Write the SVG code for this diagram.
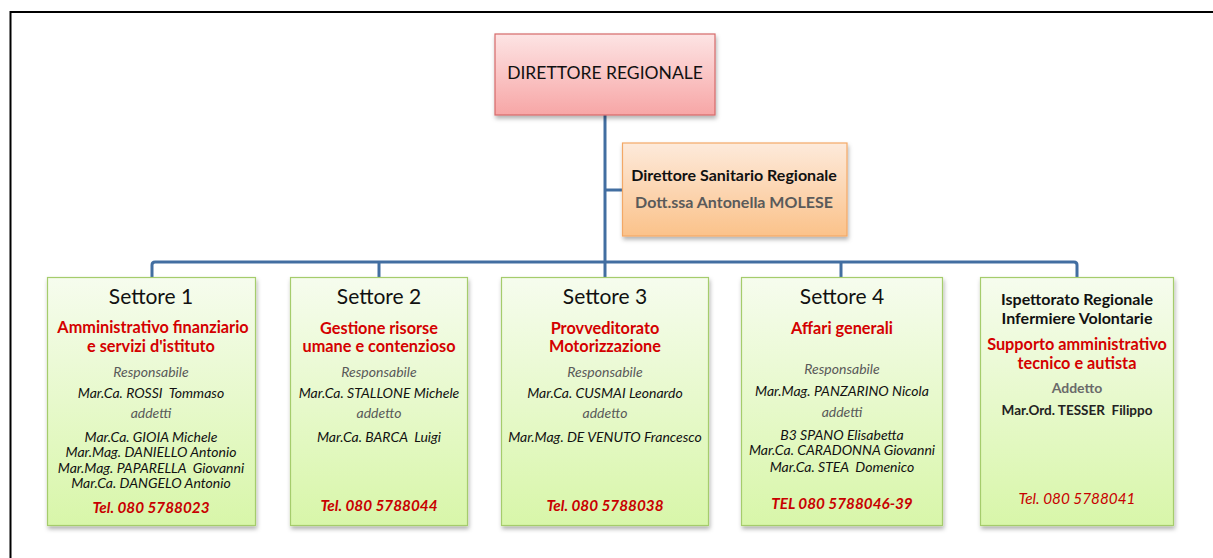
<svg xmlns="http://www.w3.org/2000/svg" width="1213" height="558" viewBox="0 0 1213 558">
<defs>
<linearGradient id="gPink" x1="0" y1="0" x2="0" y2="1"><stop offset="0" stop-color="#fde4e4"/><stop offset="1" stop-color="#f7a6a6"/></linearGradient>
<linearGradient id="gOrange" x1="0" y1="0" x2="0" y2="1"><stop offset="0" stop-color="#fdeadb"/><stop offset="1" stop-color="#fbc28a"/></linearGradient>
<linearGradient id="gGreen" x1="0" y1="0" x2="0" y2="1"><stop offset="0" stop-color="#f6fcee"/><stop offset="1" stop-color="#d8f6a9"/></linearGradient>
<filter id="sh" x="-10%" y="-10%" width="120%" height="130%"><feDropShadow dx="1" dy="3" stdDeviation="2" flood-color="#000" flood-opacity="0.3"/></filter>
<style>
text{font-family:Lato,"Liberation Sans",sans-serif;text-anchor:middle;white-space:pre}
.pink{fill:url(#gPink);stroke:#d66a6a;stroke-width:1.2}
.orange{fill:url(#gOrange);stroke:#f3a866;stroke-width:1.2}
.green{fill:url(#gGreen);stroke:#a5cc6c;stroke-width:1.2}
.conn{fill:none;stroke:#426ea1;stroke-width:3}
.h{font-size:21px;fill:#111}
.red{font-size:16.3px;font-weight:bold;fill:#d40000}
.lab{font-size:14px;font-style:italic;fill:#595959}
.nm{font-size:14px;font-style:italic;fill:#111}
.tel{font-size:15.3px;font-style:italic;font-weight:bold;fill:#c80000}
.bk{font-size:16px;font-weight:bold;fill:#111}
</style>
</defs>
<rect x="0" y="0" width="1213" height="558" fill="#fff"/>
<path d="M10.5 558 V12 H1213" fill="none" stroke="#000" stroke-width="2"/>
<g id="connectors">
<path class="conn" d="M605 115 V262"/>
<path class="conn" d="M605 190 H622"/>
<path class="conn" d="M152 277 V265 Q152 262 155 262 H1074 Q1077 262 1077 265 V277"/>
<path class="conn" d="M379 262 V277"/>
<path class="conn" d="M605 262 V277"/>
<path class="conn" d="M841 262 V277"/>
</g>
<g id="direttore">
<rect class="pink" x="495" y="34" width="220" height="81" filter="url(#sh)"/>
<text x="605" y="79" style="font-size:17.5px;fill:#111">DIRETTORE REGIONALE</text>
</g>
<g id="sanitario">
<rect class="orange" x="622.5" y="143" width="224.5" height="93" filter="url(#sh)"/>
<text class="bk" x="734" y="181">Direttore Sanitario Regionale</text>
<text class="bk" x="734" y="208" style="fill:#5a5a5a">Dott.ssa Antonella MOLESE</text>
</g>
<g id="settore1">
<rect class="green" x="47.5" y="277.5" width="208" height="248" filter="url(#sh)"/>
<text class="h" x="151" y="304">Settore 1</text>
<text class="red" x="153" y="333">Amministrativo finanziario</text>
<text class="red" x="151" y="352">e servizi d'istituto</text>
<text class="lab" x="151" y="377">Responsabile</text>
<text class="nm" x="151" y="398">Mar.Ca. ROSSI  Tommaso</text>
<text class="lab" x="151" y="418">addetti</text>
<text class="nm" x="151" y="442">Mar.Ca. GIOIA Michele</text>
<text class="nm" x="151" y="457">Mar.Mag. DANIELLO Antonio</text>
<text class="nm" x="151" y="473">Mar.Mag. PAPARELLA  Giovanni</text>
<text class="nm" x="151" y="488">Mar.Ca. DANGELO Antonio</text>
<text class="tel" x="151" y="513">Tel. 080 5788023</text>
</g>
<g id="settore2">
<rect class="green" x="290.5" y="277.5" width="177" height="248" filter="url(#sh)"/>
<text class="h" x="379" y="304">Settore 2</text>
<text class="red" x="379" y="334">Gestione risorse</text>
<text class="red" x="379" y="352">umane e contenzioso</text>
<text class="lab" x="379" y="377">Responsabile</text>
<text class="nm" x="379" y="398">Mar.Ca. STALLONE Michele</text>
<text class="lab" x="379" y="418">addetto</text>
<text class="nm" x="379" y="442">Mar.Ca. BARCA  Luigi</text>
<text class="tel" x="379" y="511">Tel. 080 5788044</text>
</g>
<g id="settore3">
<rect class="green" x="501.5" y="277.5" width="207" height="248" filter="url(#sh)"/>
<text class="h" x="605" y="304">Settore 3</text>
<text class="red" x="605" y="334">Provveditorato</text>
<text class="red" x="605" y="352">Motorizzazione</text>
<text class="lab" x="605" y="377">Responsabile</text>
<text class="nm" x="605" y="398">Mar.Ca. CUSMAI Leonardo</text>
<text class="lab" x="605" y="418">addetto</text>
<text class="nm" x="605" y="442">Mar.Mag. DE VENUTO Francesco</text>
<text class="tel" x="605" y="511">Tel. 080 5788038</text>
</g>
<g id="settore4">
<rect class="green" x="741.5" y="277.5" width="201" height="248" filter="url(#sh)"/>
<text class="h" x="842" y="304">Settore 4</text>
<text class="red" x="842" y="334">Affari generali</text>
<text class="lab" x="842" y="374">Responsabile</text>
<text class="nm" x="842" y="396">Mar.Mag. PANZARINO Nicola</text>
<text class="lab" x="842" y="417">addetti</text>
<text class="nm" x="842" y="440">B3 SPANO Elisabetta</text>
<text class="nm" x="842" y="455">Mar.Ca. CARADONNA Giovanni</text>
<text class="nm" x="842" y="472">Mar.Ca. STEA  Domenico</text>
<text class="tel" x="842" y="509">TEL 080 5788046-39</text>
</g>
<g id="ispettorato">
<rect class="green" x="980.5" y="277.5" width="193" height="248" filter="url(#sh)"/>
<text class="bk" x="1077" y="305">Ispettorato Regionale</text>
<text class="bk" x="1077" y="324">Infermiere Volontarie</text>
<text class="red" x="1077" y="350">Supporto amministrativo</text>
<text class="red" x="1077" y="369">tecnico e autista</text>
<text x="1077" y="393" style="font-size:14px;font-weight:bold;fill:#6a6a6a">Addetto</text>
<text x="1077" y="415" style="font-size:13.5px;font-weight:bold;fill:#222">Mar.Ord. TESSER  Filippo</text>
<text class="tel" x="1077" y="504" style="font-weight:normal">Tel. 080 5788041</text>
</g>
</svg>
